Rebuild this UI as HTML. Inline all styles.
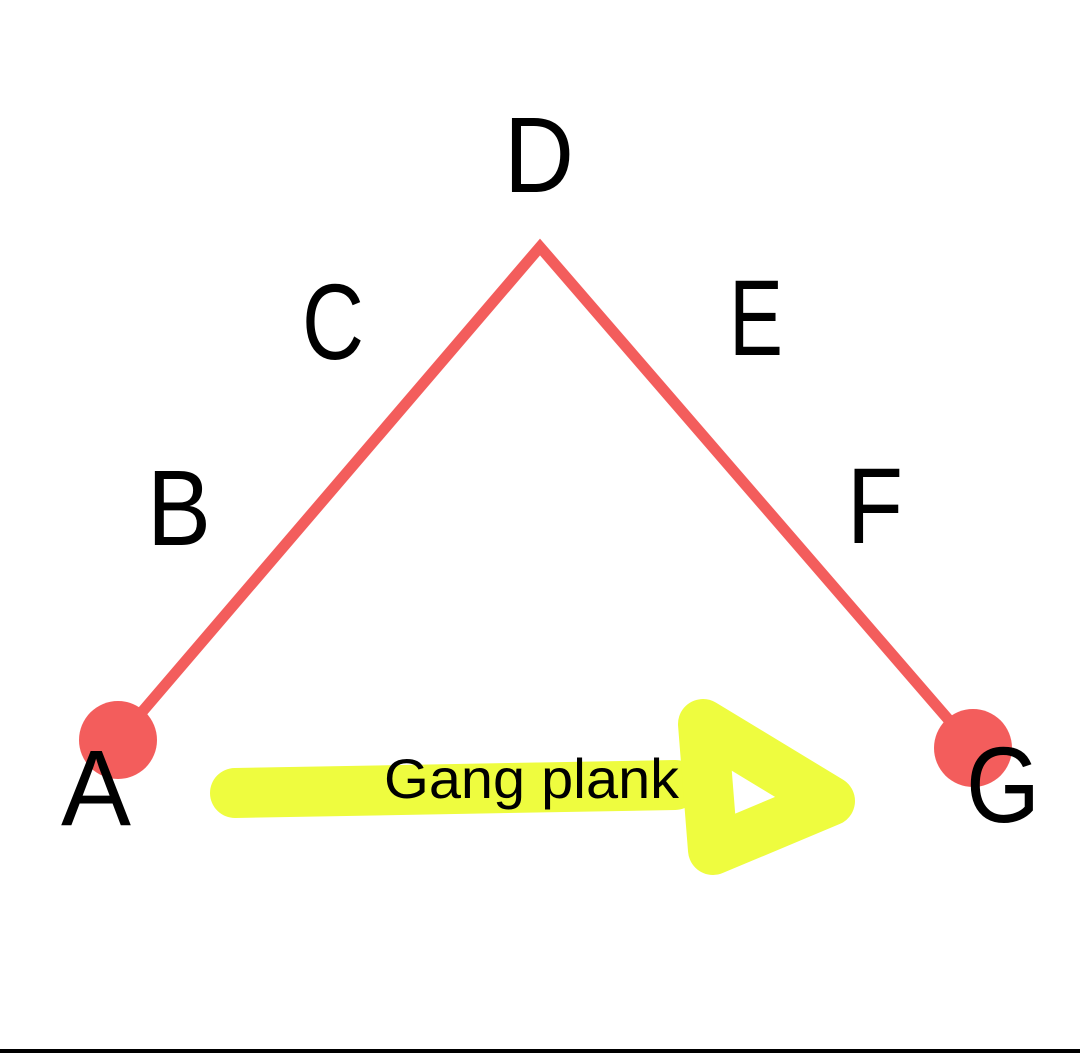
<!DOCTYPE html>
<html><head><meta charset="utf-8"><style>
html,body{margin:0;padding:0;background:#fff;}
svg{display:block;}
text{font-family:"Liberation Sans","DejaVu Sans",sans-serif;fill:#000;}
</style></head><body>
<svg width="1080" height="1053" viewBox="0 0 1080 1053" xmlns="http://www.w3.org/2000/svg">
<rect width="1080" height="1053" fill="#fff"/>
<polyline points="118,740 540,247 973,748" fill="none" stroke="#f35d5c" stroke-width="11" stroke-linejoin="miter"/>
<circle cx="118" cy="740" r="39" fill="#f35d5c"/>
<circle cx="973" cy="748" r="39" fill="#f35d5c"/>
<path d="M235,793 L675,785" stroke="#eefc3f" stroke-width="50" stroke-linecap="round" fill="none"/>
<polygon points="703,724 830,801 713,850" fill="none" stroke="#eefc3f" stroke-width="50" stroke-linejoin="round"/>
<text x="384" y="798" font-size="56" textLength="295" lengthAdjust="spacingAndGlyphs">Gang plank</text>
<g font-size="108">
<text x="504" y="192" textLength="70" lengthAdjust="spacingAndGlyphs">D</text>
<text x="302" y="359" textLength="62" lengthAdjust="spacingAndGlyphs">C</text>
<text x="729" y="355" textLength="54" lengthAdjust="spacingAndGlyphs">E</text>
<text x="147" y="545" textLength="64" lengthAdjust="spacingAndGlyphs">B</text>
<text x="847" y="543" textLength="56" lengthAdjust="spacingAndGlyphs">F</text>
<text x="61" y="825" textLength="70" lengthAdjust="spacingAndGlyphs">A</text>
<text x="966" y="822" textLength="74" lengthAdjust="spacingAndGlyphs">G</text>
</g>
<rect x="0" y="1049" width="1080" height="4" fill="#000"/>
</svg>
</body></html>
